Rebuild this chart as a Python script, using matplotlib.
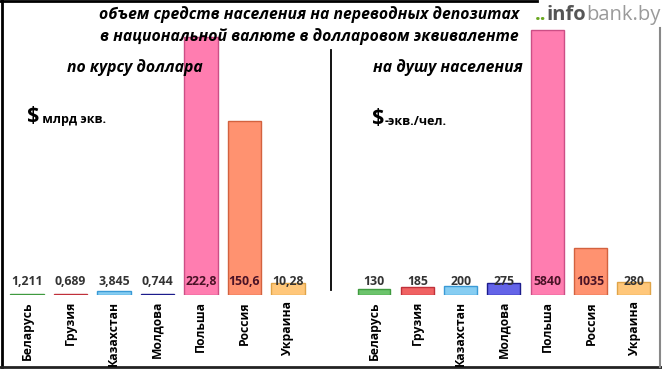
import matplotlib
matplotlib.use('Agg')
import matplotlib.pyplot as plt
from matplotlib.lines import Line2D

plt.rcParams['font.family'] = ['Open Sans', 'DejaVu Sans']

# ---------- data ----------
countries = ['Беларусь', 'Грузия', 'Казахстан', 'Молдова', 'Польша', 'Россия', 'Украина']
volume_bn = [1.211, 0.689, 3.845, 0.744, 222.8, 150.6, 10.28]
volume_lbl = ['1,211', '0,689', '3,845', '0,744', '222,8', '150,6', '10,28']
per_capita = [130, 185, 200, 275, 5840, 1035, 280]
per_capita_lbl = ['130', '185', '200', '275', '5840', '1035', '280']

FILL = ['#6cc46c', '#f06262', '#86cdf2', '#6464e8', '#ff7db0', '#ff9270', '#ffc77a']
EDGE = ['#3f9a3f', '#c0303a', '#3a9ad6', '#1c1c8c', '#cc4f86', '#d3623f', '#e0a448']

W, H = 662, 369
fig = plt.figure(figsize=(W / 100, H / 100), dpi=100)
fig.patch.set_facecolor('white')

def px_axes(x0, x1, ybase):
    # axes from pixel x0..x1, from baseline ybase (px from top) to top of figure
    return fig.add_axes([x0 / W, (H - ybase) / H, (x1 - x0) / W, ybase / H])

def setup(ax, first, step, x0, x1, ybase, vmax, vmax_px):
    ax.set_xlim((x0 - first) / step, (x1 - first) / step)
    ax.set_ylim(0, vmax * ybase / vmax_px)
    ax.axis('off')

def value_labels(ax, labels):
    for i, lab in enumerate(labels):
        c = '#4a1226' if i in (4, 5) else '#333333'
        ax.text(i, 0.045 * ax.get_ylim()[1], lab, ha='center', va='center',
                fontsize=8.8, fontweight='bold', color=c, zorder=3)

xs = range(len(countries))

# left panel: по курсу доллара
axL = px_axes(0, 331, 295)
setup(axL, 27, 43.5, 0, 331, 295, max(volume_bn), 258)
axL.bar(xs, volume_bn, width=0.76, color=FILL, edgecolor=EDGE, linewidth=1.0, zorder=1)
value_labels(axL, volume_lbl)

# right panel: на душу населения
axR = px_axes(331, 662, 295)
setup(axR, 374, 43.3, 331, 662, 295, max(per_capita), 265)
axR.bar(xs, per_capita, width=0.76, color=FILL, edgecolor=EDGE, linewidth=1.0, zorder=1)
value_labels(axR, per_capita_lbl)

# country names under both panels
for first in (27, 374):
    for i, name in enumerate(countries):
        fig.text((first + 43.4 * i) / W, (H - 301) / H, name, rotation=90,
                 ha='center', va='top', fontsize=8.7, fontweight='bold', color='black')

# overlay texts
ov = fig.add_axes([0, 0, 1, 1], facecolor='none')
ov.set_xlim(0, W); ov.set_ylim(H, 0); ov.axis('off')
ttl = dict(ha='center', va='center', fontsize=11.3, fontweight='bold', style='italic')
ov.text(309, 15, 'объем средств населения на переводных депозитах', **ttl)
ov.text(309, 37, 'в национальной валюте в долларовом эквиваленте', **ttl)
ov.text(135, 68, 'по курсу доллара', **ttl)
ov.text(448, 68, 'на душу населения', **ttl)
t = ov.text(27, 116, '$', ha='left', va='center', fontsize=15.5, fontweight='bold')
ov.annotate(' млрд экв.', xy=(1, 0.32), xycoords=t, ha='left', va='center',
            fontsize=9, fontweight='bold')
t = ov.text(372, 118, '$', ha='left', va='center', fontsize=15.5, fontweight='bold')
ov.annotate('-экв./чел.', xy=(1, 0.32), xycoords=t, ha='left', va='center',
            fontsize=9, fontweight='bold')

# divider
ov.add_line(Line2D([331, 331], [50, 290], color='black', lw=1.3))

# frame
ov.add_line(Line2D([0, 537], [1, 1], color='black', lw=2))
ov.add_line(Line2D([1.5, 1.5], [0, 367], color='black', lw=2))
ov.add_line(Line2D([0, 661], [367, 367], color='#222222', lw=2))
ov.add_line(Line2D([660, 660], [28, 367], color='#888888', lw=1.5))

# logo
t = ov.text(535, 15, '..', ha='left', va='center', fontsize=14.5, color='#6aa820', fontweight='bold')
t = ov.annotate('info', xy=(1, 0), xycoords=t, ha='left', va='bottom', fontsize=14.5,
                color='#555555', fontweight='bold')
ov.annotate('bank.by', xy=(1, 0), xycoords=t, ha='left', va='bottom', fontsize=14.5,
            color='#9a9a9a')

fig.savefig('out.png', dpi=100, facecolor='white')
